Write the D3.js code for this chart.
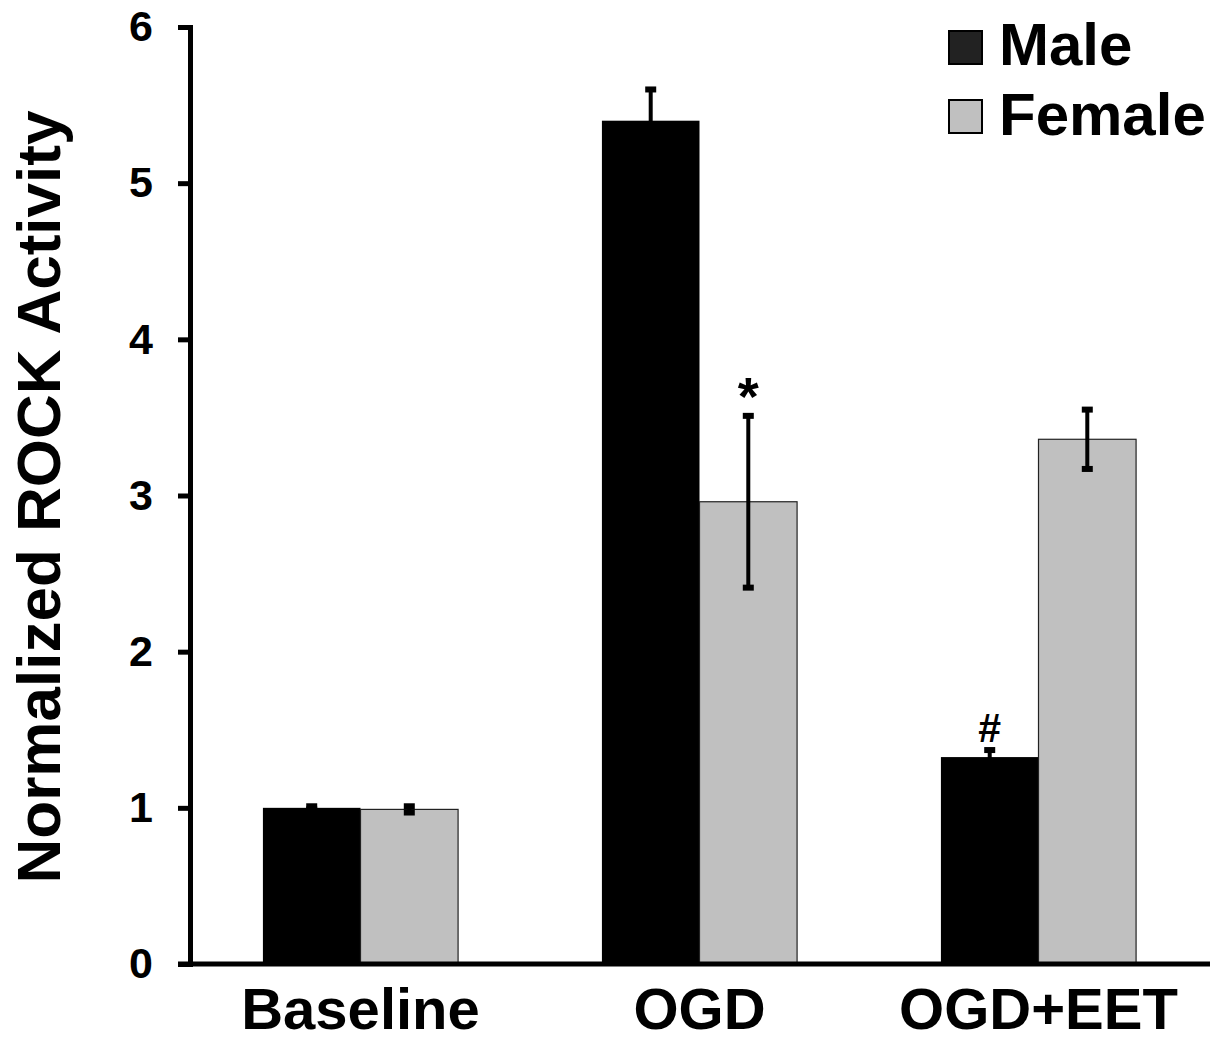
<!DOCTYPE html>
<html><head><meta charset="utf-8">
<script src="https://cdn.jsdelivr.net/npm/d3@7"></script>
<style>
body{margin:0;background:#fff;}
text{font-family:"Liberation Sans",Arial,sans-serif;font-weight:bold;fill:#000;}
</style></head>
<body><svg id="c" width="1231" height="1043"></svg>
<script>
const categories = ["Baseline", "OGD", "OGD+EET"];
const series = ["Male", "Female"];
const maleValues = [1.00, 5.40, 1.325];
const maleErrors = [0.01, 0.20, 0.045];
const femaleValues = [0.99, 2.96, 3.36];
const femaleErrors = [0.02, 0.55, 0.19];
const yTicks = [0, 1, 2, 3, 4, 5, 6];
const annotations = [{cat: "OGD", s: "Female", label: "*", size: 54, dy: -1}, {cat: "OGD+EET", s: "Male", label: "#", size: 41, dy: -8}];
const colors = {Male: "#000000", Female: "#c0c0c0"};
const legendColors = {Male: "#222222", Female: "#c0c0c0"};

const data = [];
categories.forEach((c, i) => {
  data.push({cat: c, s: "Male", v: maleValues[i], e: maleErrors[i]});
  data.push({cat: c, s: "Female", v: femaleValues[i], e: femaleErrors[i]});
});

const svg = d3.select("#c");
const y = d3.scaleLinear().domain([0, 6]).range([964, 27]);
const x0 = d3.scaleBand().domain(categories).range([191, 1208]).padding(0);
const x1 = d3.scaleBand().domain(series).range([0, x0.bandwidth()]).paddingInner(0).paddingOuter(0.737);

// bars
svg.append("g").selectAll("rect").data(data).join("rect")
  .attr("x", d => x0(d.cat) + x1(d.s))
  .attr("y", d => y(d.v))
  .attr("width", x1.bandwidth())
  .attr("height", d => y(0) - y(d.v))
  .attr("fill", d => colors[d.s])
  .attr("stroke", d => d.s === "Female" ? "#222" : "none")
  .attr("stroke-width", 1.2);

// error bars
const eg = svg.append("g");
data.forEach(d => {
  const cx = x0(d.cat) + x1(d.s) + x1.bandwidth() / 2;
  eg.append("line").attr("x1", cx).attr("x2", cx)
    .attr("y1", y(d.v + d.e)).attr("y2", y(d.v - d.e))
    .attr("stroke", "#000").attr("stroke-width", 4);
  [d.v + d.e, d.v - d.e].forEach(val => {
    eg.append("rect").attr("x", cx - 5.5).attr("y", y(val) - 3)
      .attr("width", 11).attr("height", 6).attr("fill", "#000");
  });
});

// annotations
annotations.forEach(a => {
  const d = data.find(t => t.cat === a.cat && t.s === a.s);
  const cx = x0(d.cat) + x1(d.s) + x1.bandwidth() / 2;
  svg.append("text").attr("x", cx).attr("y", y(d.v + d.e) + a.dy)
    .attr("text-anchor", "middle").attr("font-size", a.size).text(a.label);
});

// y axis
const yAxis = svg.append("g").attr("transform", "translate(190,0)")
  .call(d3.axisLeft(y).tickValues(yTicks).tickFormat(d3.format("d")).tickSize(12).tickPadding(25));
yAxis.selectAll("path,line").attr("stroke", "#000").attr("stroke-width", 5);
yAxis.selectAll("text").attr("font-size", 43).style("font-family", '"Liberation Sans",Arial,sans-serif').style("font-weight", "bold");

// x axis
const xAxis = svg.append("g").attr("transform", "translate(0,964)")
  .call(d3.axisBottom(x0).tickSize(0).tickPadding(24));
xAxis.select("path").attr("stroke", "#000").attr("stroke-width", 5)
  .attr("d", "M178,0H1210");
xAxis.selectAll("text").attr("font-size", 58).style("font-family", '"Liberation Sans",Arial,sans-serif').style("font-weight", "bold");

// y title
svg.append("text").attr("transform", "translate(60,497) rotate(-90)")
  .attr("text-anchor", "middle").attr("font-size", 62).text("Normalized ROCK Activity");

// legend
const lg = svg.append("g");
series.forEach((s, i) => {
  lg.append("rect").attr("x", 949).attr("y", 31 + i * 69).attr("width", 33).attr("height", 33)
    .attr("fill", legendColors[s]).attr("stroke", "#000").attr("stroke-width", 2);
  lg.append("text").attr("x", 999).attr("y", 65 + i * 70).attr("font-size", 60).text(s);
});
</script></body></html>
